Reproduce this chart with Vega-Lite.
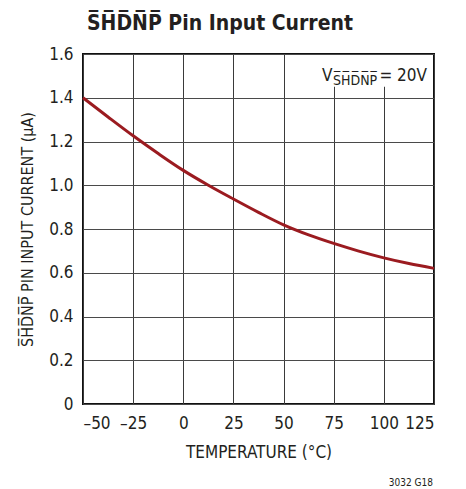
{
  "$schema": "https://vega.github.io/schema/vega-lite/v6.json",
  "autosize": {"type": "none"},
  "padding": {"left": 83, "top": 54, "right": 32, "bottom": 85},
  "width": 351,
  "height": 350,
  "background": "white",
  "config": {
    "font": "DejaVu Sans Condensed",
    "view": {"stroke": "#111", "strokeWidth": 2}
  },
  "title": {
    "text": "S̅H̅D̅N̅P̅ Pin Input Current",
    "anchor": "start",
    "frame": "group",
    "dx": 4,
    "offset": 11,
    "fontSize": 21,
    "font": "DejaVu Sans Condensed",
    "fontWeight": "bold",
    "color": "#231f20"
  },
  "encoding": {
    "x": {
      "type": "quantitative",
      "scale": {"domain": [-50, 125], "nice": false},
      "axis": {
        "values": [-50, -25, 0, 25, 50, 75, 100, 125],
        "labelExpr": "replace(datum.label, '−', '–')",
        "title": "TEMPERATURE (°C)",
        "domain": false, "ticks": false,
        "grid": true, "gridColor": "#3a3a3a", "gridWidth": 1, "gridOpacity": 1,
        "labelFontSize": 17, "labelColor": "#231f20", "labelPadding": 11,
        "titleFontSize": 17, "titleFontWeight": "normal", "titleColor": "#231f20", "titlePadding": 13
      }
    },
    "y": {
      "type": "quantitative",
      "scale": {"domain": [0, 1.6], "nice": false},
      "axis": {
        "values": [0, 0.2, 0.4, 0.6, 0.8, 1.0, 1.2, 1.4, 1.6],
        "labelExpr": "datum.value == 0 ? '0' : format(datum.value, '.1f')",
        "title": "S̅H̅D̅N̅P̅ PIN INPUT CURRENT (μA)",
        "domain": false, "ticks": false,
        "grid": true, "gridColor": "#4a4a4a", "gridWidth": 1, "gridOpacity": 1,
        "labelFontSize": 17, "labelColor": "#231f20", "labelPadding": 10,
        "titleFontSize": 16, "titleFontWeight": "normal", "titleColor": "#231f20", "titlePadding": 13
      }
    }
  },
  "layer": [
    {
      "data": {"values": [
        {"t": -50, "i": 1.40},
        {"t": -37.5, "i": 1.312},
        {"t": -25, "i": 1.226},
        {"t": -12.5, "i": 1.145},
        {"t": 0, "i": 1.068},
        {"t": 12.5, "i": 1.0},
        {"t": 25, "i": 0.937},
        {"t": 37.5, "i": 0.876},
        {"t": 50, "i": 0.819},
        {"t": 62.5, "i": 0.773},
        {"t": 75, "i": 0.734},
        {"t": 87.5, "i": 0.699},
        {"t": 100, "i": 0.668},
        {"t": 112.5, "i": 0.642},
        {"t": 125, "i": 0.620}
      ]},
      "mark": {"type": "line", "color": "#9b1b20", "strokeWidth": 3, "interpolate": "monotone"},
      "encoding": {"x": {"field": "t", "type": "quantitative"}, "y": {"field": "i", "type": "quantitative"}}
    },
    {
      "data": {"values": [{}]},
      "mark": {"type": "rect", "fill": "white", "strokeWidth": 0},
      "encoding": {
        "x": {"datum": 68},
        "x2": {"datum": 124.3},
        "y": {"datum": 1.595},
        "y2": {"datum": 1.45}
      }
    },
    {
      "data": {"values": [{}]},
      "mark": {"type": "text", "align": "left", "baseline": "alphabetic", "fontSize": 17, "fill": "#231f20", "dx": -112, "dy": 27},
      "encoding": {"x": {"datum": 125}, "y": {"datum": 1.6}, "text": {"value": "V"}}
    },
    {
      "data": {"values": [{}]},
      "mark": {"type": "text", "align": "left", "baseline": "alphabetic", "fontSize": 14, "fill": "#231f20", "dx": -101, "dy": 31},
      "encoding": {"x": {"datum": 125}, "y": {"datum": 1.6}, "text": {"value": "S̅H̅D̅N̅P̅"}}
    },
    {
      "data": {"values": [{}]},
      "mark": {"type": "text", "align": "right", "baseline": "alphabetic", "fontSize": 17, "fill": "#231f20", "dx": -7, "dy": 27},
      "encoding": {"x": {"datum": 125}, "y": {"datum": 1.6}, "text": {"value": "= 20V"}}
    },
    {
      "data": {"values": [{}]},
      "mark": {"type": "text", "align": "right", "baseline": "alphabetic", "fontSize": 10, "fill": "#231f20", "dx": -1, "dy": 82},
      "encoding": {"x": {"datum": 125}, "y": {"datum": 0}, "text": {"value": "3032 G18"}}
    }
  ]
}
